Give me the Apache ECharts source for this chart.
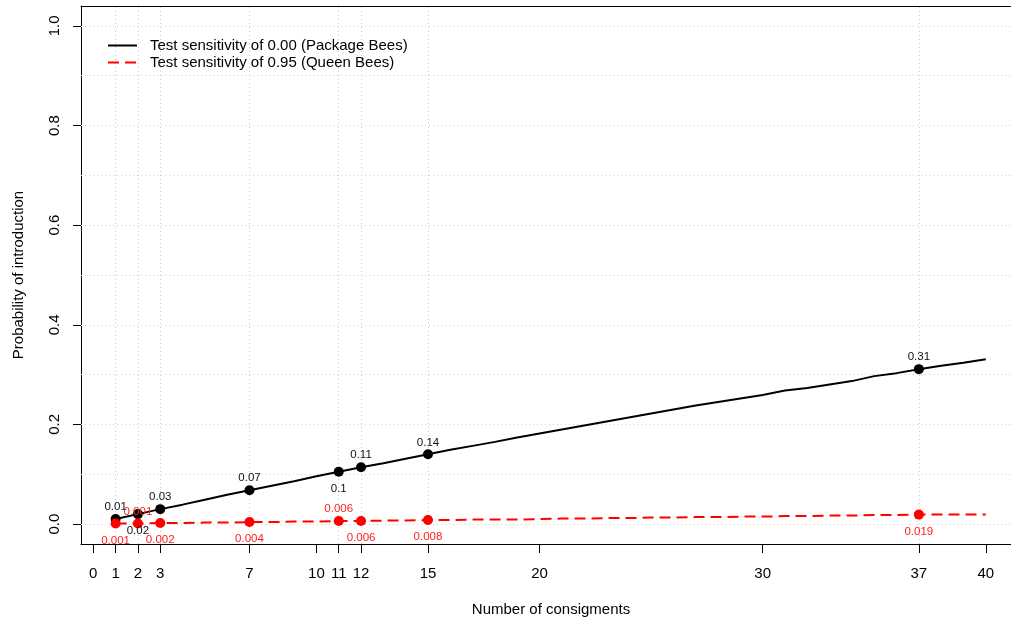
<!DOCTYPE html>
<html>
<head>
<meta charset="utf-8">
<script src="https://cdn.jsdelivr.net/npm/echarts@6/dist/echarts.min.js"></script>
<style>
html,body{margin:0;padding:0;background:#fff;}
#chart{width:1011px;height:624px;}
</style>
</head>
<body>
<div id="chart"></div>
<script>
// ---- data ----
const consignments = [1,2,3,4,5,6,7,8,9,10,11,12,13,14,15,16,17,18,19,20,21,22,23,24,25,26,27,28,29,30,31,32,33,34,35,36,37,38,39,40];
const packageBees = [0.010,0.020,0.030,0.039,0.049,0.059,0.068,0.077,0.086,0.096,0.105,0.114,0.122,0.131,0.140,0.149,0.157,0.165,0.174,0.182,0.190,0.198,0.206,0.214,0.222,0.230,0.238,0.245,0.252,0.259,0.268,0.273,0.280,0.287,0.297,0.303,0.311,0.318,0.324,0.331];
const queenBees = [0.001,0.001,0.002,0.002,0.003,0.003,0.004,0.004,0.005,0.005,0.006,0.006,0.007,0.007,0.008,0.008,0.009,0.009,0.009,0.010,0.011,0.011,0.012,0.012,0.013,0.013,0.014,0.014,0.015,0.015,0.016,0.016,0.017,0.017,0.018,0.018,0.019,0.019,0.019,0.019];
const highlighted = [1,2,3,7,11,12,15,37];
const xTicks = [0,1,2,3,7,10,11,12,15,20,30,37,40];
const yTicks = [0,0.2,0.4,0.6,0.8,1.0];
const yGrid = [0,0.1,0.2,0.3,0.4,0.5,0.6,0.7,0.8,0.9,1.0];
const seriesNames = ['Test sensitivity of 0.00 (Package Bees)','Test sensitivity of 0.95 (Queen Bees)'];

// label placement (style)
const blackPos = ['top','bottom','top','top','bottom','top','top','top'];
const redPos = ['bottom','top','bottom','bottom','top','bottom','bottom','bottom'];

const FONT = 'Liberation Sans, Arial, sans-serif';
const X_MIN = -0.551, X_MAX = 41.13;
const chart = echarts.init(document.getElementById('chart'), null, {renderer:'canvas'});

function pts(values, positions, digits, color) {
  return highlighted.map((x, k) => {
    const v = values[consignments.indexOf(x)];
    const pos = positions[k];
    return {
      value: [x, v],
      label: {
        show: true,
        position: pos,
        distance: pos === 'top' ? 1 : 6,
        formatter: String(Number(v.toFixed(digits))),
        color: color,
        fontSize: 11.5,
        fontFamily: FONT
      }
    };
  });
}

const option = {
  animation: false,
  backgroundColor: '#fff',
  grid: {left: 81, top: 6, right: 0, bottom: 80, show: false},
  legend: {
    data: seriesNames,
    orient: 'vertical',
    left: 107, top: 38, padding: 0,
    itemWidth: 29, itemHeight: 14, itemGap: 2,
    itemStyle: {opacity: 0},
    textStyle: {fontSize: 15, fontFamily: FONT, color: '#000', padding: [0,0,0,8]}
  },
  xAxis: [{
    type: 'value', min: X_MIN, max: X_MAX, position: 'bottom',
    name: 'Number of consigments', nameLocation: 'middle', nameGap: 58,
    nameTextStyle: {fontSize: 15, fontFamily: FONT, color: '#000', padding: [0,0,0,10]},
    axisLine: {show: true, onZero: false, lineStyle: {color: '#000', width: 1}},
    splitLine: {show: false},
    axisTick: {show: true, length: 9, customValues: xTicks, lineStyle: {color: '#000'}},
    axisLabel: {show: true, customValues: xTicks, margin: 22, fontSize: 15, fontFamily: FONT, color: '#000'}
  }, {
    type: 'value', min: X_MIN, max: X_MAX, position: 'top',
    axisLine: {show: true, onZero: false, lineStyle: {color: '#000', width: 1}},
    splitLine: {show: false}, axisTick: {show: false}, axisLabel: {show: false}
  }],
  yAxis: {
    type: 'value', min: -0.04, max: 1.04,
    name: 'Probability of introduction', nameLocation: 'middle', nameGap: 55,
    nameTextStyle: {fontSize: 15, fontFamily: FONT, color: '#000'},
    axisLine: {show: true, onZero: false, lineStyle: {color: '#000', width: 1}},
    splitLine: {show: false},
    axisTick: {show: true, length: 8, customValues: yTicks, lineStyle: {color: '#000'}},
    axisLabel: {show: true, customValues: yTicks, rotate: 90, margin: 19, fontSize: 15, fontFamily: FONT, color: '#000',
      formatter: v => v.toFixed(1)}
  },
  series: [
    {
      name: 'grid', type: 'line', data: [], z: 1, silent: true,
      markLine: {
        silent: true, symbol: 'none', animation: false, z: 1,
        label: {show: false},
        lineStyle: {color: '#cfcfcf', type: [1,3], width: 1},
        data: highlighted.map(v => ({xAxis: v})).concat(yGrid.map(v => ({yAxis: v})))
      }
    },
    {
      name: seriesNames[0], type: 'line', z: 3, symbol: 'none',
      data: consignments.map((x, i) => [x, packageBees[i]]),
      lineStyle: {color: '#000', width: 2}, itemStyle: {color: '#000'}
    },
    {
      name: seriesNames[1], type: 'line', z: 3, symbol: 'none',
      data: consignments.map((x, i) => [x, queenBees[i]]),
      lineStyle: {color: '#ff0000', width: 2, type: [11,6]}, itemStyle: {color: '#ff0000'}
    },
    {
      name: 'pkgPts', type: 'scatter', z: 4, symbolSize: 10,
      itemStyle: {color: '#000', opacity: 1},
      data: pts(packageBees, blackPos, 2, '#111')
    },
    {
      name: 'queenPts', type: 'scatter', z: 4, symbolSize: 10,
      itemStyle: {color: '#ff0000', opacity: 1},
      data: pts(queenBees, redPos, 3, '#ff2020')
    }
  ]
};
chart.setOption(option);
</script>
</body>
</html>
